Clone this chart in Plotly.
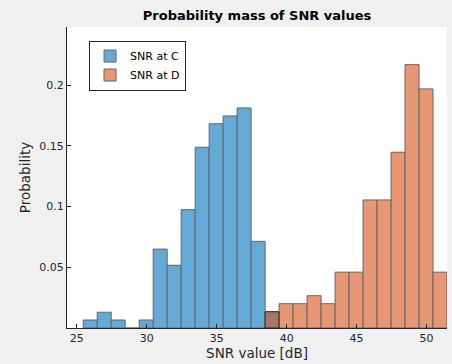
import plotly.graph_objects as go

# Histogram bin centres [dB] (bin width 1 dB)
bins_C = [25.96, 26.96, 27.96, 28.96, 29.96, 30.96, 31.96, 32.96, 33.96, 34.96,
          35.96, 36.96, 37.96, 38.96]
prob_C = [0.0066, 0.0130, 0.0066, 0.0, 0.0066, 0.0650, 0.0517, 0.0975, 0.1489,
          0.1683, 0.1747, 0.1813, 0.0714, 0.0134]

bins_D = [38.96, 39.96, 40.96, 41.96, 42.96, 43.96, 44.96, 45.96, 46.96, 47.96,
          48.96, 49.96, 50.96]
prob_D = [0.0134, 0.0200, 0.0200, 0.0266, 0.0200, 0.0460, 0.0460, 0.1055, 0.1055,
          0.1448, 0.2170, 0.1970, 0.0460]

x_ticks = [25, 30, 35, 40, 45, 50]
y_ticks = [0.05, 0.1, 0.15, 0.2]
y_tick_text = ["0.05", "0.1", "0.15", "0.2"]

fig = go.Figure()
fig.add_trace(go.Bar(
    x=bins_C, y=prob_C, width=1, name="SNR at C",
    marker=dict(color="rgb(0,114,189)", line=dict(color="black", width=1)),
    opacity=0.6,
))
fig.add_trace(go.Bar(
    x=bins_D, y=prob_D, width=1, name="SNR at D",
    marker=dict(color="rgb(217,83,25)", line=dict(color="black", width=1)),
    opacity=0.6,
))

axis_color = "#262626"
fig.update_layout(
    width=452, height=364,
    barmode="overlay",
    paper_bgcolor="#f0f0f0",
    plot_bgcolor="white",
    margin=dict(l=67, r=5, t=27, b=36),
    font=dict(family="DejaVu Sans", size=11, color=axis_color),
    title=dict(text="<b>Probability mass of SNR values</b>", x=0.5687, xanchor="center",
               y=0.958, yanchor="middle", font=dict(size=13, color="black")),
    showlegend=True,
    legend=dict(x=0.058, y=0.955, xanchor="left", yanchor="top",
                bgcolor="white", bordercolor="#262626", borderwidth=1,
                font=dict(size=11, color="black"), tracegroupgap=0,
                itemwidth=30),
    xaxis=dict(range=[24.3, 51.46], tickvals=x_ticks, ticks="inside", ticklen=4,
               tickcolor=axis_color, showgrid=False, zeroline=False,
               showline=True, linecolor=axis_color, linewidth=1,
               title=dict(text="SNR value [dB]", standoff=3, font=dict(size=13.5))),
    yaxis=dict(range=[0, 0.248], tickvals=y_ticks, ticktext=y_tick_text,
               ticks="inside", ticklen=4, tickcolor=axis_color, showgrid=False,
               zeroline=False, showline=True, linecolor=axis_color, linewidth=1,
               title=dict(text="Probability", standoff=5, font=dict(size=13.5))),
)

fig.write_html("out.html")
